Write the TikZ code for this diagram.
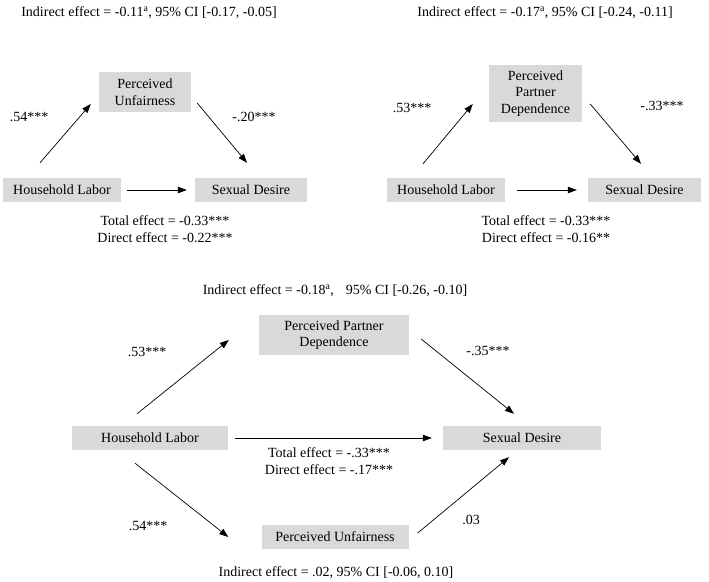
\documentclass[tikz,border=0pt]{standalone}
\usepackage{fontspec}
\setmainfont{Liberation Serif}
\usepackage{tikz}
\usetikzlibrary{arrows.meta}
\definecolor{boxgray}{RGB}{217,217,217}
\tikzset{
  varbox/.style={fill=boxgray, inner sep=0pt, align=center, font=\fontsize{14}{16.5}\selectfont},
  lbl/.style={inner sep=0pt, align=center, font=\fontsize{14}{16.5}\selectfont},
  arr/.style={-{Triangle[length=9pt,width=6.5pt]}, line width=0.7pt}
}

\begin{document}
\begin{tikzpicture}[x=1pt,y=-1pt]
        \useasboundingbox (0,0) rectangle (709,581);
        % Top left model
        \node[lbl] (indA) at (149,13) {Indirect effect = -0.11\textsuperscript{a}, 95\% CI [-0.17, -0.05]};
        \node[varbox, minimum width=92pt, minimum height=40pt] (puA) at (145,92) {Perceived\\Unfairness};
        \node[varbox, minimum width=118pt, minimum height=24pt] (hlA) at (62,190) {Household Labor};
        \node[varbox, minimum width=112pt, minimum height=24pt] (sdA) at (251,190) {Sexual Desire};
        \node[lbl] (aA) at (29,117) {.54***};
        \node[lbl] (bA) at (254,117) {-.20***};
        \node[lbl] (totA) at (165,229) {Total effect = -0.33***\\Direct effect = -0.22***};
        \draw[arr] ([shift={(-22,-15)}]hlA.north) -- ([shift={(-8,12)}]puA.west);
        \draw[arr] ([shift={(6,11)}]puA.east) -- ([shift={(-4,-15)}]sdA.north);
        \draw[arr, shorten <=6pt, shorten >=8pt] (hlA) -- (sdA);
        % Top right model
        \node[lbl] (indB) at (545,13) {Indirect effect = -0.17\textsuperscript{a}, 95\% CI [-0.24, -0.11]};
        \node[varbox, minimum width=93pt, minimum height=57pt] (ppdB) at (535.5,93.5) {Perceived\\Partner\\Dependence};
        \node[varbox, minimum width=118pt, minimum height=24pt] (hlB) at (446,190) {Household Labor};
        \node[varbox, minimum width=113pt, minimum height=24pt] (sdB) at (644.5,190) {Sexual Desire};
        \node[lbl] (aB) at (412,108) {.53***};
        \node[lbl] (bB) at (662,106) {-.33***};
        \node[lbl] (totB) at (546,229) {Total effect = -0.33***\\Direct effect = -0.16**};
        \draw[arr] ([shift={(-23,-14)}]hlB.north) -- ([shift={(-16,10.5)}]ppdB.west);
        \draw[arr] ([shift={(8,10.5)}]ppdB.east) -- ([shift={(-3.5,-14)}]sdB.north);
        \draw[arr, shorten <=12pt, shorten >=11pt] (hlB) -- (sdB);
        % Bottom model
        \node[lbl] (indC) at (335,291) {Indirect effect = -0.18\textsuperscript{a},\hspace{12pt}95\% CI [-0.26, -0.10]};
        \node[varbox, minimum width=150pt, minimum height=40pt] (ppdC) at (334,335) {Perceived Partner\\Dependence};
        \node[varbox, minimum width=156pt, minimum height=24pt] (hlC) at (150,438) {Household Labor};
        \node[varbox, minimum width=158pt, minimum height=24pt] (sdC) at (522,438) {Sexual Desire};
        \node[varbox, minimum width=147pt, minimum height=24pt] (puC) at (335,537) {Perceived Unfairness};
        \node[lbl] (aC) at (147,352) {.53***};
        \node[lbl] (bC) at (488,351) {-.35***};
        \node[lbl] (cC) at (148,526) {.54***};
        \node[lbl] (dC) at (471,520) {.03};
        \node[lbl] (totC) at (329,461) {Total effect = -.33***\\Direct effect = -.17***};
        \node[lbl] (indD) at (336,573) {Indirect effect = .02, 95\% CI [-0.06, 0.10]};
        \draw[arr] ([shift={(-13,-12)}]hlC.north) -- ([shift={(-30,5)}]ppdC.west);
        \draw[arr] ([shift={(12,4)}]ppdC.east) -- ([shift={(-8,-12)}]sdC.north);
        \draw[arr, shorten <=7pt, shorten >=11pt] (hlC) -- (sdC);
        \draw[arr] ([shift={(-15,13)}]hlC.south) -- ([shift={(-33,0)}]puC.west);
        \draw[arr] ([shift={(9,-4)}]puC.east) -- ([shift={(-13,7)}]sdC.south);
    \end{tikzpicture}
\end{document}
